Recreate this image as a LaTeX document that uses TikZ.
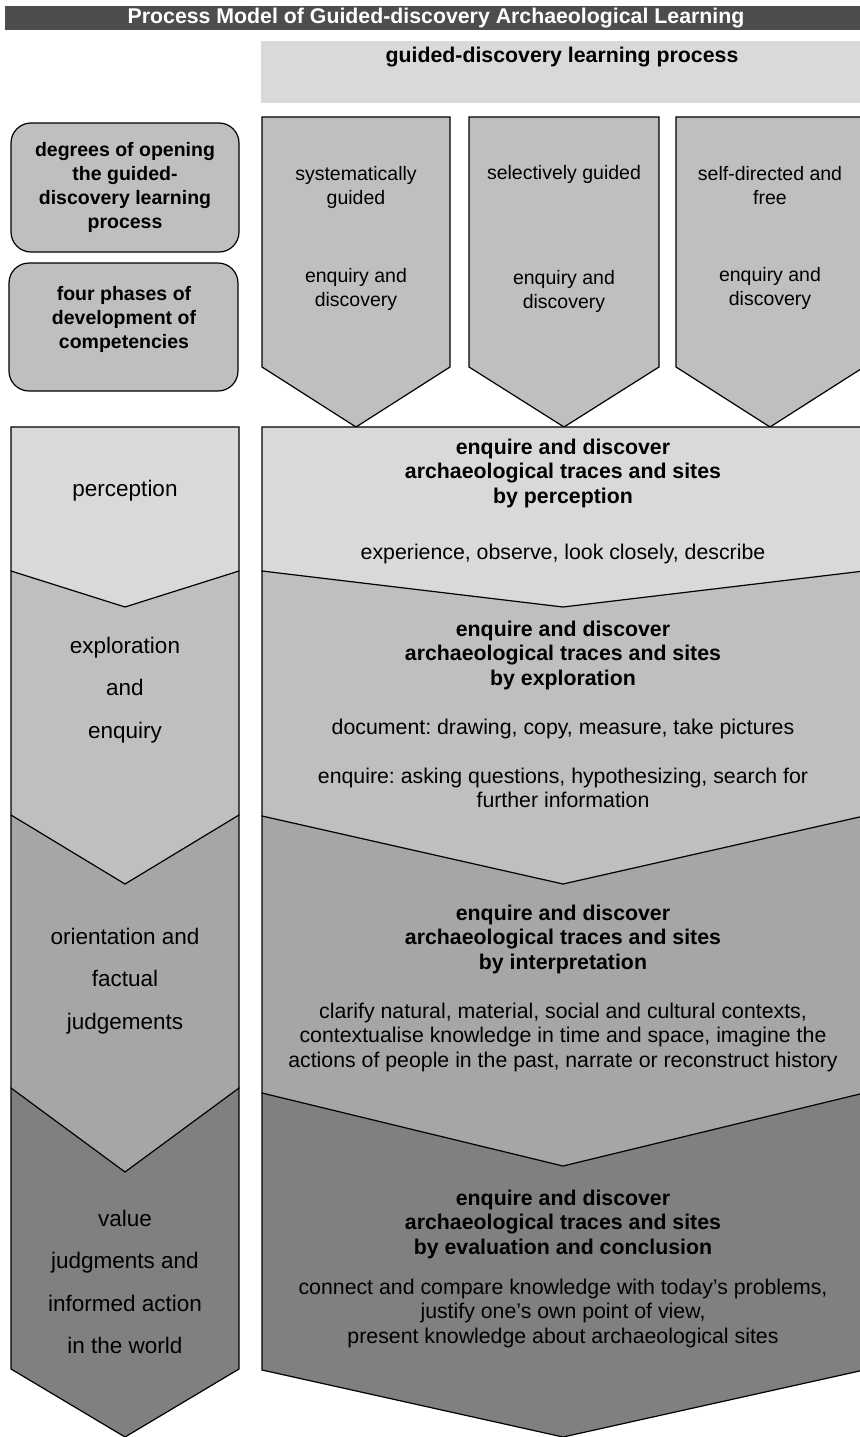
\documentclass[tikz,border=0pt]{standalone}
\usepackage{fontspec}
\setmainfont{Liberation Sans}
\usepackage{tikz}
\frenchspacing
\definecolor{shadeA}{HTML}{D9D9D9}
\definecolor{shadeB}{HTML}{BFBFBF}
\definecolor{shadeC}{HTML}{A6A6A6}
\definecolor{shadeD}{HTML}{808080}
\definecolor{barcol}{HTML}{4D4D4D}
\newcommand{\bigtxt}{\fontsize{21.3}{24.5}\selectfont}
\newcommand{\boxtxt}{\fontsize{19.5}{24}\selectfont}
\newcommand{\sidetxt}{\fontsize{22.5}{42.5}\selectfont}
\tikzstyle{outline}=[draw=black, line width=1.2pt, line join=miter]
\tikzstyle{box}=[outline, rounded corners=20pt, fill=shadeB]
\tikzstyle{txt}=[align=center, inner sep=0pt, font=\bigtxt]
\tikzstyle{head}=[txt, font=\bigtxt\bfseries]
\tikzstyle{small}=[txt, font=\boxtxt]
\tikzstyle{side}=[txt, font=\sidetxt]
% fill, left, right, top, sides, tip
\newcommand{\chevron}[6]{%
  \filldraw[outline, fill=#1] (#2,#4) -- (#3,#4) -- (#3,#5) -- ({(#2+#3)/2},#6) -- (#2,#5) -- cycle;}

\begin{document}
\begin{tikzpicture}[x=1pt, y=-1pt]
  \useasboundingbox (0,0) rectangle (859,1437);

  % title and header
  \fill[barcol] (5,6) rectangle (864,30);
  \node[head, text=white] (title) at (436,18) {Process Model of Guided-discovery Archaeological Learning};
  \fill[shadeA] (261,41) rectangle (864,103);
  \node[head] (process) at (562,57) {guided-discovery learning process};

  % legend boxes
  \draw[box] (11,123) rectangle (239,252);
  \node[small, font=\boxtxt\bfseries] (degrees) at (125,187) {degrees of opening\\the guided-\\discovery learning\\process};
  \draw[box] (9,263) rectangle (238,391);
  \node[small, font=\boxtxt\bfseries] (phases) at (124,319) {four phases of\\development of\\competencies};

  % degrees of opening
  \chevron{shadeB}{262}{450}{117}{367}{427}
  \chevron{shadeB}{469}{659}{117}{367}{427}
  \chevron{shadeB}{676}{864}{117}{367}{427}
  \node[small] (sys) at (356,187) {systematically\\guided};
  \node[small] (sysenq) at (356,289) {enquiry and\\discovery};
  \node[small] (sel) at (564,174) {selectively guided};
  \node[small] (selenq) at (564,291) {enquiry and\\discovery};
  \node[small] (free) at (770,186) {self-directed and\\free};
  \node[small] (freeenq) at (770,288) {enquiry and\\discovery};

  % phases, drawn from the bottom up
  \chevron{shadeD}{11}{239}{1088}{1369}{1437}
  \chevron{shadeC}{11}{239}{815}{1088}{1172}
  \chevron{shadeB}{11}{239}{571}{815}{884}
  \chevron{shadeA}{11}{239}{427}{571}{607}
  \chevron{shadeD}{262}{864}{1093}{1370}{1437}
  \chevron{shadeC}{262}{864}{816}{1093}{1166}
  \chevron{shadeB}{262}{864}{571}{816}{884}
  \chevron{shadeA}{262}{864}{427}{571}{607}

  \node[side] (perc) at (125,491) {perception};
  \node[side] (expl) at (125,690) {exploration\\and\\enquiry};
  \node[side] (orient) at (125,981) {orientation and\\factual\\judgements};
  \node[side] (value) at (125,1282) {value\\judgments and\\informed action\\in the world};

  \node[head] (perchd) at (563,473) {enquire and discover\\archaeological traces and sites\\by perception};
  \node[txt] (percbody) at (563,554) {experience, observe, look closely, describe};
  \node[head] (explhd) at (563,655) {enquire and discover\\archaeological traces and sites\\by exploration};
  \node[txt] (expldoc) at (563,729) {document: drawing, copy, measure, take pictures};
  \node[txt] (explenq) at (563,788) {enquire: asking questions, hypothesizing, search for\\further information};
  \node[head] (interhd) at (563,939) {enquire and discover\\archaeological traces and sites\\by interpretation};
  \node[txt] (interbody) at (563,1037) {clarify natural, material, social and cultural contexts,\\contextualise knowledge in time and space, imagine the\\actions of people in the past, narrate or reconstruct history};
  \node[head] (evalhd) at (563,1224) {enquire and discover\\archaeological traces and sites\\by evaluation and conclusion};
  \node[txt] (evalbody) at (563,1313) {connect and compare knowledge with today's problems,\\justify one's own point of view,\\present knowledge about archaeological sites};
\end{tikzpicture}
\end{document}
